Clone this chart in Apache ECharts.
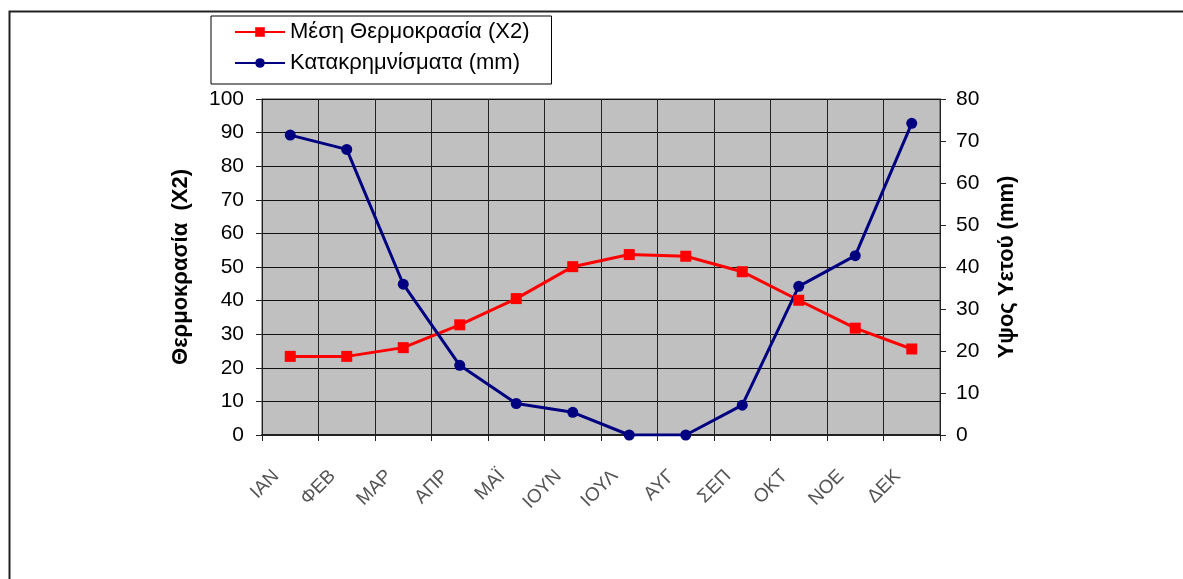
<!DOCTYPE html>
<html>
<head>
<meta charset="utf-8">
<script src="https://cdn.jsdelivr.net/npm/echarts@6/dist/echarts.min.js"></script>
<style>
html,body{margin:0;padding:0;background:#fff;}
#chart{width:1183px;height:579px;}
</style>
</head>
<body>
<div id="chart"></div>
<script>
const months = ['ΙΑΝ','ΦΕΒ','ΜΑΡ','ΑΠΡ','ΜΑΪ','ΙΟΥΝ','ΙΟΥΛ','ΑΥΓ','ΣΕΠ','ΟΚΤ','ΝΟΕ','ΔΕΚ'];
const temperatureX2 = [23.4, 23.4, 26.0, 32.8, 40.6, 50.1, 53.7, 53.2, 48.6, 40.1, 31.8, 25.6];
const precipitation = [71.4, 68.0, 35.9, 16.6, 7.5, 5.4, 0, 0, 7.1, 35.4, 42.7, 74.2];
const tempName = 'Μέση Θερμοκρασία (X2)';
const precName = 'Κατακρημνίσματα (mm)';
const leftAxisName = 'Θερμοκρασία  (X2)';
const rightAxisName = 'Υψος Υετού (mm)';

const chart = echarts.init(document.getElementById('chart'));
const font = 'Liberation Sans, Arial, sans-serif';
chart.setOption({
  animation: false,
  textStyle: {fontFamily: font},
  graphic: [{
    type: 'rect', left: 7, top: 9, z: -10,
    shape: {width: 1176, height: 600},
    style: {fill: 'none', stroke: '#222', lineWidth: 2}
  }],
  legend: {
    orient: 'vertical',
    left: 211, top: 16,
    padding: [5, 22, 10, 23],
    itemGap: 9,
    itemWidth: 50, itemHeight: 12,
    borderColor: '#000', borderWidth: 1,
    textStyle: {fontSize: 22, color: '#000', fontFamily: font},
    data: [tempName, precName]
  },
  grid: {left: 262, right: 243, top: 99, bottom: 144, show: true,
    backgroundColor: '#c0c0c0', borderColor: '#444', borderWidth: 1},
  xAxis: {
    type: 'category', data: months, boundaryGap: true,
    axisLine: {lineStyle: {color: '#222', width: 2}},
    axisTick: {show: true, length: 6, lineStyle: {color: '#222'}},
    splitLine: {show: true, interval: 0, lineStyle: {color: '#222', width: 1}},
    axisLabel: {rotate: 45, interval: 0, fontSize: 19, color: '#555', margin: 24,
      padding: [0, 20, 0, 0], fontFamily: font}
  },
  yAxis: [{
    type: 'value', min: 0, max: 100, interval: 10,
    name: leftAxisName, nameLocation: 'middle', nameRotate: 90, nameGap: 70,
    nameTextStyle: {fontSize: 22, fontWeight: 'bold', color: '#000', fontFamily: font},
    axisLine: {show: true, lineStyle: {color: '#222'}},
    axisTick: {show: true, length: 6, lineStyle: {color: '#222'}},
    axisLabel: {fontSize: 21, color: '#000', margin: 18, fontFamily: font},
    splitLine: {show: true, lineStyle: {color: '#111', width: 1}}
  }, {
    type: 'value', min: 0, max: 80, interval: 10,
    name: rightAxisName, nameLocation: 'middle', nameRotate: 90, nameGap: 56,
    nameTextStyle: {fontSize: 22, fontWeight: 'bold', color: '#000', fontFamily: font},
    axisLine: {show: true, lineStyle: {color: '#222'}},
    axisTick: {show: true, length: 6, lineStyle: {color: '#222'}},
    axisLabel: {fontSize: 21, color: '#000', margin: 16, fontFamily: font},
    splitLine: {show: false}
  }],
  series: [{
    name: tempName, type: 'line', yAxisIndex: 0, data: temperatureX2,
    symbol: 'rect', symbolSize: 11, color: '#ff0000',
    lineStyle: {width: 3, color: '#ff0000'}, itemStyle: {color: '#ff0000'}
  }, {
    name: precName, type: 'line', yAxisIndex: 1, data: precipitation,
    symbol: 'circle', symbolSize: 11, color: '#000080',
    lineStyle: {width: 3, color: '#000080'}, itemStyle: {color: '#000080'}
  }]
});
</script>
</body>
</html>
